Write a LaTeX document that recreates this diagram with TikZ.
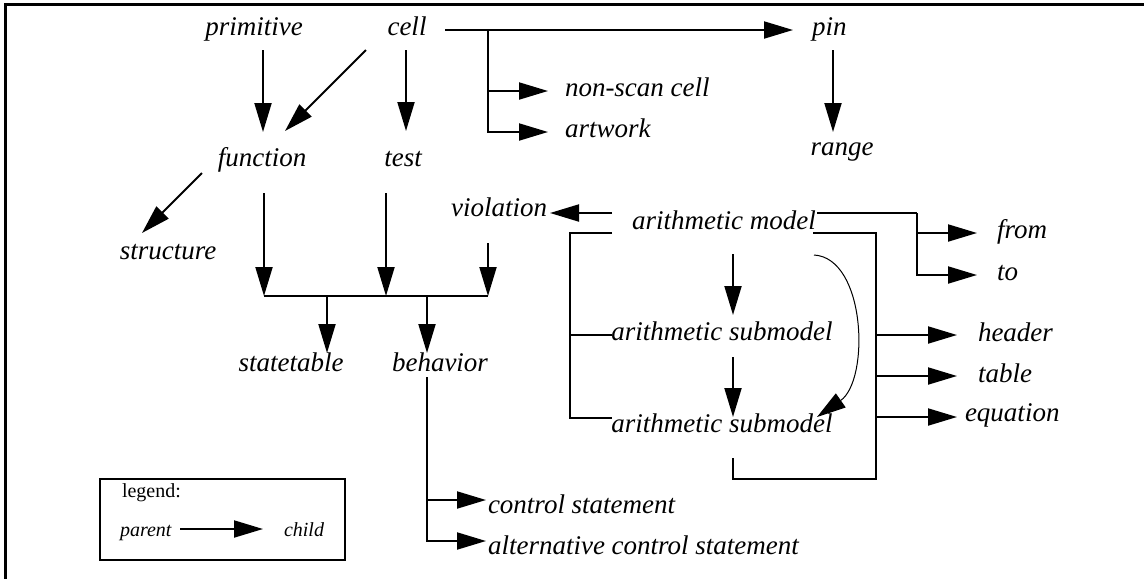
\documentclass[tikz,border=0pt]{standalone}
\usepackage{fontspec}
\setmainfont{Liberation Serif}[ItalicFont={Liberation Serif Italic}]
\usetikzlibrary{arrows.meta}
\tikzset{
  lbl/.style={inner sep=0pt, outer sep=0pt, font=\fontsize{27}{32}\selectfont\itshape},
  small/.style={inner sep=0pt, outer sep=0pt, font=\fontsize{20}{24}\selectfont},
  con/.style={line width=2pt},
  arr/.style={line width=2pt, -{Triangle[length=29pt,width=17pt]}},
  thinarr/.style={line width=1pt, -{Triangle[length=29pt,width=17pt]}},
}
\begin{document}
\begin{tikzpicture}[x=1pt,y=-1pt]
\useasboundingbox (0,0) rectangle (1144,579);
% frame
\draw[line width=3pt] (1144,4) -- (5,4) -- (5,579);

% nodes
\node[lbl, anchor=base] (prim) at (254,35) {primitive};
\node[lbl, anchor=base] (cell) at (407,35) {cell};
\node[lbl, anchor=base west] (pin) at (812,35) {pin};
\node[lbl, anchor=base west] (nonscan) at (565,96) {non-scan cell};
\node[lbl, anchor=base west] (artwork) at (565,137) {artwork};
\node[lbl, anchor=base] (range) at (842,155) {range};
\node[lbl, anchor=base] (func) at (262,166) {function};
\node[lbl, anchor=base] (test) at (403,166) {test};
\node[lbl, anchor=base] (struct) at (168,259) {structure};
\node[lbl, anchor=base east] (viol) at (547,216) {violation};
\node[lbl, anchor=base] (am) at (724,229) {arithmetic model};
\node[lbl, anchor=base west] (from) at (997,238) {from};
\node[lbl, anchor=base west] (to) at (997,280) {to};
\node[lbl, anchor=base] (asm1) at (722,340) {arithmetic submodel};
\node[lbl, anchor=base] (asm2) at (722,432) {arithmetic submodel};
\node[lbl, anchor=base west] (header) at (978,341) {header};
\node[lbl, anchor=base west] (table) at (978,382) {table};
\node[lbl, anchor=base west] (eq) at (965,421) {equation};
\node[lbl, anchor=base] (stt) at (291,371) {statetable};
\node[lbl, anchor=base] (beh) at (440,371) {behavior};
\node[lbl, anchor=base west] (ctrl) at (488,513) {control statement};
\node[lbl, anchor=base west] (alt) at (488,554) {alternative control statement};

% legend
\node[draw, line width=2pt, inner sep=0pt, minimum width=245pt, minimum height=81pt] (legbox) at (222.5,519.5) {};
\node[small, anchor=base west] (legtxt) at (122,497) {legend:};
\node[small, anchor=base west, font=\fontsize{20}{24}\selectfont\itshape] (parent) at (120,536) {parent};
\node[small, anchor=base west, font=\fontsize{20}{24}\selectfont\itshape] (child) at (284,536) {child};
\draw[arr] ([shift={(9,-7)}]parent.base east) -- ([shift={(-21,-7)}]child.base west);

% cell -> pin, non-scan cell, artwork
\coordinate (j1) at ([shift={(81,-5)}]cell.base);
\draw[arr] ([shift={(38,-5)}]cell.base) -- ([shift={(-19,-5)}]pin.base west);
\draw[arr] (j1) |- ([shift={(-17,-5)}]nonscan.base west);
\draw[arr] (j1) |- ([shift={(-17,-5)}]artwork.base west);

% pin -> range
\draw[arr] ([shift={(21,15)}]pin.base west) -- ([shift={(-9,-23)}]range.base);

% primitive/cell -> function, cell -> test
\draw[arr] ([shift={(9,15)}]prim.base) -- ([shift={(1,-34)}]func.base);
\draw[arr] ([shift={(-41,15)}]cell.base) -- ([shift={(23,-35)}]func.base);
\draw[arr] ([shift={(-1,15)}]cell.base) -- ([shift={(3,-35)}]test.base);

% function -> structure
\draw[arr] ([shift={(-60,7)}]func.base) -- ([shift={(-26,-26)}]struct.base);

% function, test, violation -> statetable, behavior
\coordinate (barL) at (264,296);
\coordinate (barM) at (386,296);
\coordinate (barR) at (488,296);
\coordinate (barS) at (327,296);
\coordinate (barB) at (427,296);
\draw[arr] ([shift={(2,27)}]func.base) -- (barL);
\draw[arr] ([shift={(-17,27)}]test.base) -- (barM);
\draw[arr] ([shift={(-59,27)}]viol.base east) -- (barR);
\draw[con] (barL) -- (barR);
\draw[arr] (barS) -- ([shift={(36,-18)}]stt.base);
\draw[arr] (barB) -- ([shift={(-13,-18)}]beh.base);

% behavior -> control statements
\coordinate (bj) at ([shift={(-13,6)}]beh.base);
\draw[arr] (bj) |- ([shift={(-2,-13)}]ctrl.base west);
\draw[arr] (bj) |- ([shift={(-2,-13)}]alt.base west);

% arithmetic model -> violation
\draw[arr] ([shift={(-112,-16)}]am.base) -- ([shift={(3,-3)}]viol.base east);

% arithmetic model -> from, to
\coordinate (j2) at ([shift={(193,-16)}]am.base);
\draw[con] ([shift={(93,-16)}]am.base) -- (j2);
\draw[arr] (j2) |- ([shift={(-20,-5)}]from.base west);
\draw[arr] (j2) |- ([shift={(-20,-5)}]to.base west);

% left bracket: arithmetic model -> submodels
\draw[con] ([shift={(-112,4)}]am.base) -| ([shift={(-152,-14)}]asm2.base) -- ([shift={(-110,-14)}]asm2.base);
\draw[con] ([shift={(-152,-5)}]asm1.base) -- ([shift={(-110,-5)}]asm1.base);

% model -> submodel -> submodel
\draw[arr] ([shift={(9,25)}]am.base) -- ([shift={(11,-25)}]asm1.base);
\draw[arr] ([shift={(11,17)}]asm1.base) -- ([shift={(11,-15)}]asm2.base);

% curved arrow
\draw[thinarr] ([shift={(90,26)}]am.base) .. controls (866,258) and (870,380) .. ([shift={(95,-15)}]asm2.base);

% right bracket -> header, table, equation
\coordinate (rb) at (876,479);
\draw[con] ([shift={(89,4)}]am.base) -| (rb) -- ([shift={(11,47)}]asm2.base) -- ([shift={(11,26)}]asm2.base);
\coordinate (hE) at ([shift={(-21,-6)}]header.base west);
\coordinate (tE) at ([shift={(-21,-6)}]table.base west);
\coordinate (eE) at ([shift={(-8,-4)}]eq.base west);
\draw[arr] (rb |- hE) -- (hE);
\draw[arr] (rb |- tE) -- (tE);
\draw[arr] (rb |- eE) -- (eE);
\end{tikzpicture}
\end{document}
